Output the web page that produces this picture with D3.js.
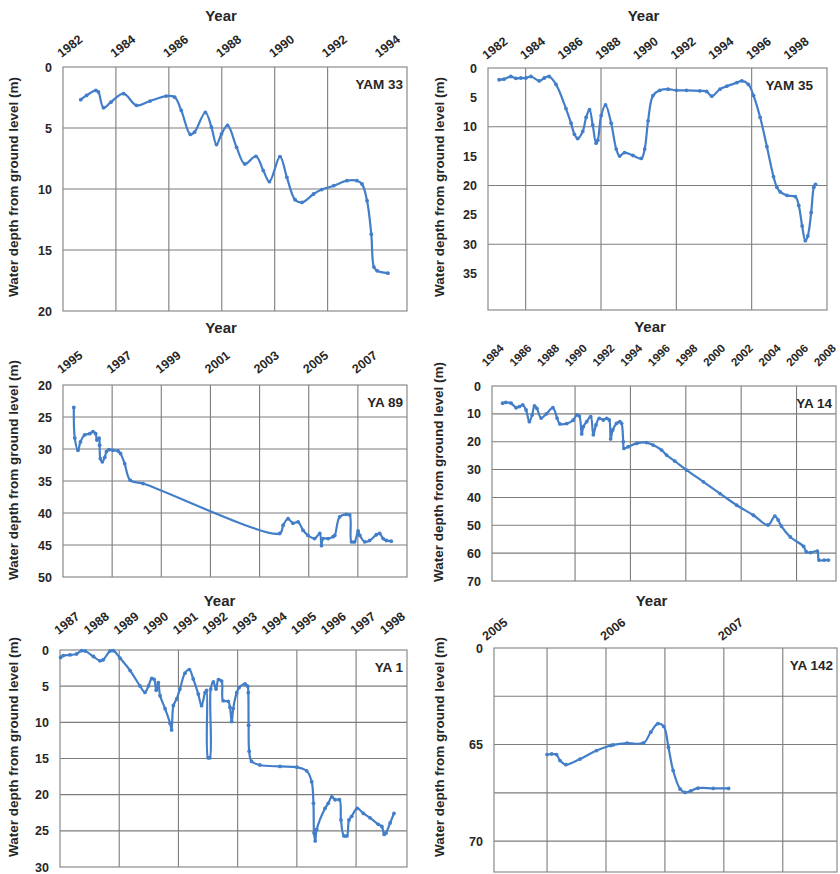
<!DOCTYPE html>
<html lang="en">
<head>
<meta charset="utf-8">
<title>Water depth from ground level – six wells</title>
<style>
  html, body { margin:0; padding:0; background:#fff; overflow:hidden; }
  svg { display:block; font-family:"Liberation Sans", Arial, sans-serif; }
  .axis text { font-size:12.5px; font-weight:bold; fill:#262626; }
  .grid { stroke:#7c7c7c; stroke-width:1.1; }
  .frame { fill:none; stroke:#8a8a8a; stroke-width:1.2; }
  .series { fill:none; stroke:#437ec9; stroke-width:2.2; stroke-linejoin:round; }
  .dot { fill:#437ec9; }
  .title { font-size:15px; font-weight:bold; fill:#262626; }
  .ytitle { font-size:13.5px; font-weight:bold; fill:#262626; }
  .well { font-size:13.5px; font-weight:bold; fill:#262626; }
</style>
</head>
<body>
<svg id="chart" width="840" height="874"></svg>
<script src="https://cdn.jsdelivr.net/npm/d3@7"></script>
<script>
// --- data: [year, depth below ground (m)] ---
const yam33 = [
  [1982.67,2.68],[1982.89,2.33],[1983.24,1.92],[1983.34,2.05],[1983.53,3.34],[1983.81,2.88],
  [1984.29,2.19],[1984.78,3.15],[1985.29,2.79],[1985.9,2.38],[1986.22,2.47],[1986.47,3.56],
  [1986.81,5.53],[1986.97,5.34],[1987.38,3.73],[1987.61,4.93],[1987.8,6.36],[1987.99,5.48],
  [1988.22,4.79],[1988.56,6.58],[1988.87,7.95],[1989.29,7.32],[1989.57,8.49],[1989.8,9.4],
  [1990.2,7.34],[1990.46,9.04],[1990.77,10.88],[1991.03,11.1],[1991.47,10.41],[1991.78,10.05],
  [1992.23,9.73],[1992.73,9.32],[1993.11,9.32],[1993.3,9.59],[1993.49,10.96],[1993.65,13.7],
  [1993.75,16.4],[1993.87,16.7],[1994.28,16.9]
];
const yam35 = [
  [1982.59,2.0],[1982.85,1.9],[1983.21,1.45],[1983.48,1.75],[1983.74,1.7],[1984.01,1.7],
  [1984.28,1.45],[1984.72,2.2],[1984.99,1.7],[1985.25,1.45],[1985.61,2.8],[1986.14,6.9],
  [1986.41,9.4],[1986.59,11.3],[1986.76,12.0],[1987.03,10.8],[1987.21,8.4],[1987.39,7.1],
  [1987.56,9.7],[1987.74,12.8],[1987.83,12.3],[1988.01,8.1],[1988.24,6.3],[1988.54,9.4],
  [1988.81,13.8],[1988.99,15.0],[1989.25,14.4],[1989.7,14.9],[1990.14,15.4],[1990.32,13.8],
  [1990.5,9.0],[1990.76,4.7],[1991.12,3.8],[1991.56,3.6],[1992.01,3.8],[1992.54,3.8],
  [1993.25,3.9],[1993.61,4.0],[1993.88,4.8],[1994.32,3.6],[1994.68,3.1],[1995.21,2.5],
  [1995.48,2.2],[1995.83,2.8],[1996.1,4.7],[1996.45,8.4],[1996.81,13.4],[1997.16,18.5],
  [1997.34,20.3],[1997.52,21.1],[1997.88,21.7],[1998.32,21.9],[1998.5,23.4],[1998.68,26.9],
  [1998.85,29.4],[1998.98,28.6],[1999.16,24.6],[1999.3,20.3],[1999.39,19.8]
];
const ya89 = [
  [1995.44,23.5],[1995.48,28.3],[1995.61,30.2],[1995.71,28.9],[1995.88,27.8],[1996.09,27.6],
  [1996.22,27.3],[1996.33,27.6],[1996.38,28.6],[1996.47,28.3],[1996.49,29.4],[1996.52,31.5],
  [1996.6,32.0],[1996.7,31.3],[1996.77,30.4],[1996.87,30.1],[1997.03,30.2],[1997.24,30.3],
  [1997.34,30.7],[1997.51,32.3],[1997.74,34.9],[1998.26,35.4],[2003.82,43.2],[2003.96,41.9],
  [2004.16,40.9],[2004.36,41.6],[2004.57,41.4],[2004.77,42.7],[2004.97,43.5],[2005.24,44.0],
  [2005.45,43.2],[2005.52,45.1],[2005.58,44.0],[2005.79,44.0],[2005.99,43.7],[2006.06,43.5],
  [2006.26,40.6],[2006.53,40.2],[2006.67,40.3],[2006.74,44.5],[2006.87,44.5],[2007.01,42.8],
  [2007.08,43.5],[2007.28,44.5],[2007.48,44.3],[2007.75,43.4],[2007.89,43.2],[2008.03,44.0],
  [2008.16,44.3],[2008.36,44.4]
];
const ya14 = [
  [1984.77,6.2],[1985.0,5.9],[1985.38,6.2],[1985.74,7.8],[1985.98,7.4],[1986.22,6.8],
  [1986.46,8.6],[1986.7,12.8],[1986.9,10.4],[1987.07,7.1],[1987.24,8.0],[1987.55,11.5],
  [1987.93,10.0],[1988.4,7.8],[1988.7,11.5],[1988.9,13.6],[1989.4,13.5],[1989.86,12.3],
  [1990.12,10.4],[1990.31,10.8],[1990.48,17.2],[1990.6,14.6],[1990.84,12.8],[1991.13,11.0],
  [1991.32,17.5],[1991.51,14.0],[1991.75,11.6],[1992.04,12.2],[1992.28,11.6],[1992.47,12.2],
  [1992.57,19.0],[1992.72,15.8],[1993.0,13.4],[1993.24,12.8],[1993.36,13.4],[1993.48,20.0],
  [1993.53,22.4],[1993.84,21.8],[1994.45,20.6],[1995.16,20.3],[1995.64,21.2],[1996.25,23.0],
  [1996.61,24.8],[1997.21,27.0],[1998.06,30.2],[1999.27,34.4],[2000.47,38.6],[2001.68,42.8],
  [2002.89,46.4],[2003.94,49.9],[2004.43,46.7],[2004.67,48.1],[2004.9,50.3],[2005.55,54.2],
  [2006.51,57.6],[2006.7,59.5],[2007.0,59.8],[2007.5,59.3],[2007.62,62.5],[2008.0,62.5],
  [2008.3,62.5]
];
const ya1 = [
  [1987.02,1.04],[1987.11,0.77],[1987.34,0.68],[1987.56,0.54],[1987.73,0.09],[1987.85,0.14],
  [1988.13,0.9],[1988.35,1.49],[1988.46,1.35],[1988.69,0.14],[1988.8,0.09],[1989.03,1.13],
  [1989.37,2.84],[1989.7,4.96],[1989.87,5.86],[1989.99,4.96],[1990.1,3.92],[1990.18,4.06],
  [1990.25,5.55],[1990.32,4.51],[1990.38,6.31],[1990.55,8.12],[1990.72,10.15],[1990.77,11.05],
  [1990.83,7.67],[1990.94,6.77],[1991.05,5.4],[1991.22,3.2],[1991.37,2.7],[1991.5,4.0],
  [1991.67,6.1],[1991.78,7.7],[1991.9,5.9],[1991.95,5.6],[1992.0,14.9],[1992.06,14.9],
  [1992.09,5.4],[1992.18,4.4],[1992.27,5.4],[1992.35,4.1],[1992.46,4.3],[1992.51,7.0],
  [1992.68,7.1],[1992.74,7.9],[1992.8,9.9],[1992.85,8.1],[1992.97,5.9],[1993.05,5.2],
  [1993.25,4.7],[1993.34,5.0],[1993.36,5.9],[1993.37,10.4],[1993.39,14.0],[1993.47,15.4],
  [1993.75,15.9],[1994.43,16.1],[1995.0,16.2],[1995.33,16.7],[1995.5,18.2],[1995.56,21.2],
  [1995.58,25.3],[1995.62,26.4],[1995.67,24.8],[1995.95,21.9],[1996.06,21.2],[1996.18,20.3],
  [1996.29,20.7],[1996.44,20.7],[1996.49,23.5],[1996.59,25.7],[1996.69,25.7],[1996.76,23.5],
  [1996.85,23.0],[1997.04,21.9],[1997.25,22.6],[1997.47,23.2],[1997.75,24.1],[1997.87,24.4],
  [1997.95,25.5],[1998.01,25.3],[1998.15,23.9],[1998.28,22.6]
];
const ya142 = [
  [2005.5,65.52],[2005.54,65.49],[2005.58,65.52],[2005.61,65.83],[2005.66,66.04],[2005.78,65.75],
  [2005.92,65.31],[2006.04,65.05],[2006.06,65.02],[2006.18,64.93],[2006.32,64.91],[2006.38,64.36],
  [2006.44,63.92],[2006.49,64.06],[2006.53,65.14],[2006.57,66.35],[2006.63,67.31],[2006.67,67.48],
  [2006.72,67.4],[2006.78,67.26],[2006.91,67.27],[2007.04,67.27]
];

// --- ticks ---
const yam33XTicks = [1982,1984,1986,1988,1990,1992,1994];
const yam33YTicks = [0,5,10,15,20];
const yam35XTicks = [1982,1984,1986,1988,1990,1992,1994,1996,1998];
const yam35YTicks = [0,5,10,15,20,25,30,35];
const ya89XTicks  = [1995,1997,1999,2001,2003,2005,2007];
const ya89YTicks  = [20,25,30,35,40,45,50];
const ya14XTicks  = [1984,1986,1988,1990,1992,1994,1996,1998,2000,2002,2004,2006,2008];
const ya14YTicks  = [0,10,20,30,40,50,60,70];
const ya1XTicks   = [1987,1988,1989,1990,1991,1992,1993,1994,1995,1996,1997,1998];
const ya1YTicks   = [0,5,10,15,20,25,30];
const ya142XTicks = [2005,2006,2007];
const ya142YTicks = [60,65,70];
const ya142YLabels = ["0","65","70"];

// --- panel layout ---
const panels = [
  { name:"YAM 33", data:yam33, xDomain:[1982,1995], yDomain:[0,20],
    left:63, right:407, top:67, bottom:311,
    xTicks:yam33XTicks, xGrid:[1984,1986,1988,1990,1992], yTicks:yam33YTicks, yGrid:[5,10,15],
    labelGap:9, yTitleX:13, yTitleY:187, titleY:21 },
  { name:"YAM 35", data:yam35, xDomain:[1982,2000], yDomain:[0,41.2],
    left:488, right:827, top:68, bottom:310,
    xTicks:yam35XTicks, xGrid:[1984,1988,1992,1996], yTicks:yam35YTicks, yGrid:[10,20,30],
    labelGap:8, yTitleX:439, yTitleY:187, titleY:21, nameRight:813 },
  { name:"YA 89", data:ya89, xDomain:[1995,2009], yDomain:[20,50],
    left:63, right:407, top:385, bottom:577,
    xTicks:ya89XTicks, xGrid:[1997,1999,2001,2003,2005,2007], yTicks:ya89YTicks, yGrid:[25,30,35,40,45],
    labelGap:11, yTitleX:13, yTitleY:470, titleY:333 },
  { name:"YA 14", data:ya14, xDomain:[1984,2008.85], yDomain:[0,70],
    left:492, right:836, top:386, bottom:581,
    xTicks:ya14XTicks, xGrid:[1990,1994,1998,2002,2006], yTicks:ya14YTicks, yGrid:[10,20,30,40,50,60],
    labelGap:19, labelAngle:-45, labelShift:-6, labelSize:"11.5px",
    yTitleX:438, yTitleY:472, titleY:332 },
  { name:"YA 1", data:ya1, xDomain:[1987,1998.72], yDomain:[0,30],
    left:60, right:407, top:650, bottom:867,
    xTicks:ya1XTicks, xGrid:[1989,1991,1993,1995,1997], yTicks:ya1YTicks, yGrid:[5,10,15,20,25],
    labelGap:15, yTitleX:13, yTitleY:747, titleY:606 },
  { name:"YA 142", data:ya142, xDomain:[2005.05,2007.96], yDomain:[60,71.6],
    left:494, right:837, top:648, bottom:872,
    xTicks:ya142XTicks, xGrid:[2005.5,2006,2006.5,2007,2007.5], yTicks:ya142YTicks, yLabels:ya142YLabels,
    yGrid:[62.5,65,67.5,70], labelGap:7, yTitleX:439, yTitleY:747, titleY:606 }
];

const svg = d3.select("#chart");

function drawPanel(p) {
  const x = d3.scaleLinear().domain(p.xDomain).range([p.left, p.right]);
  const y = d3.scaleLinear().domain(p.yDomain).range([p.top, p.bottom]);
  const g = svg.append("g");

  // grid lines
  g.selectAll(".vg").data(p.xGrid).join("line").attr("class","grid")
    .attr("x1", d => x(d)).attr("x2", d => x(d)).attr("y1", p.top).attr("y2", p.bottom);
  g.selectAll(".hg").data(p.yGrid).join("line").attr("class","grid")
    .attr("x1", p.left).attr("x2", p.right).attr("y1", d => y(d)).attr("y2", d => y(d));
  g.append("rect").attr("class","frame")
    .attr("x", p.left).attr("y", p.top).attr("width", p.right - p.left).attr("height", p.bottom - p.top);

  // y axis
  const yAxis = d3.axisLeft(y).tickValues(p.yTicks).tickSize(0).tickPadding(11)
    .tickFormat((d, i) => p.yLabels ? p.yLabels[i] : d);
  g.append("g").attr("class","axis").attr("transform", `translate(${p.left},0)`).call(yAxis)
    .attr("font-size", null).attr("font-family", null)
    .call(a => a.select(".domain").remove());

  // x axis on top, rotated labels
  const xAxis = d3.axisTop(x).tickValues(p.xTicks).tickSize(0).tickFormat(d3.format("d"));
  const xt = g.append("g").attr("class","axis").attr("transform", `translate(0,${p.top})`).call(xAxis)
    .attr("font-size", null).attr("font-family", null)
    .call(a => a.select(".domain").remove())
    .selectAll("text")
      .attr("x", 0).attr("y", 0).attr("dy", 0)
      .attr("text-anchor", "start")
      .attr("transform", `translate(${p.labelShift || -2},${-p.labelGap}) rotate(${p.labelAngle || -38})`);
  if (p.labelSize) xt.style("font-size", p.labelSize);

  // titles
  g.append("text").attr("class","title").attr("text-anchor","middle")
    .attr("x", (p.left + p.right) / 2 - 14).attr("y", p.titleY).text("Year");
  g.append("text").attr("class","ytitle").attr("text-anchor","middle")
    .attr("transform", `translate(${p.yTitleX + 5},${p.yTitleY}) rotate(-90)`)
    .text("Water depth from ground level (m)");
  g.append("text").attr("class","well").attr("text-anchor","end")
    .attr("x", p.nameRight || p.right - 4).attr("y", p.top + 22).text(p.name);

  // series
  const line = d3.line().x(d => x(d[0])).y(d => y(d[1])).curve(d3.curveCatmullRom.alpha(0.5));
  g.append("path").datum(p.data).attr("class","series").attr("d", line);
  g.selectAll(".dot").data(p.data).join("circle").attr("class","dot")
    .attr("cx", d => x(d[0])).attr("cy", d => y(d[1])).attr("r", 1.9);
}

panels.forEach(drawPanel);
</script>
</body>
</html>
